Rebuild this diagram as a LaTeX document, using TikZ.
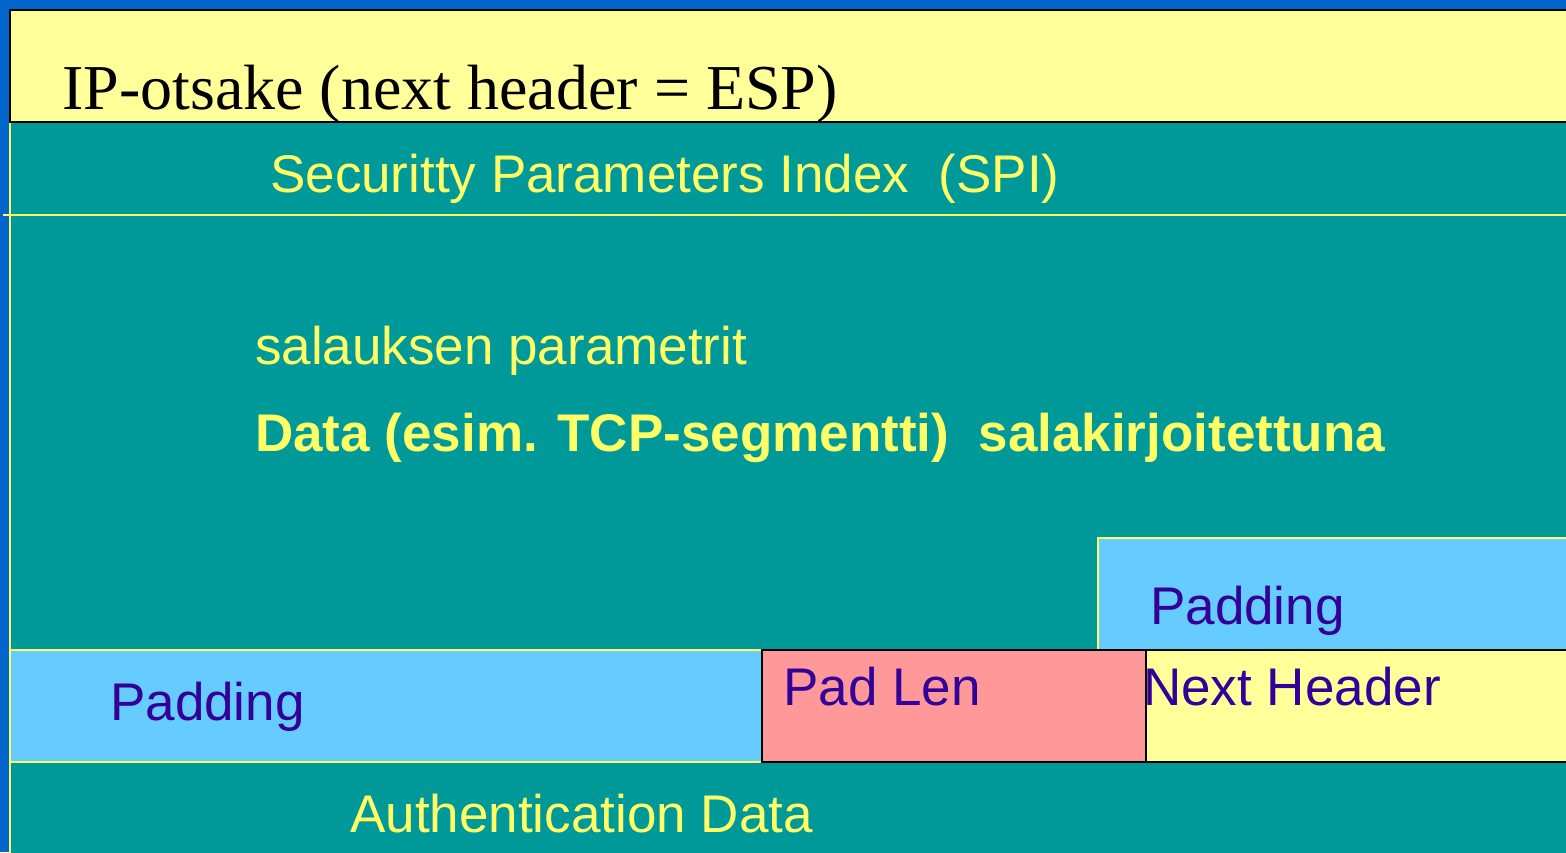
\documentclass[tikz,border=0pt]{standalone}
\usepackage{fontspec}
\setmainfont{Liberation Serif}
\setsansfont{Liberation Sans}
\definecolor{slideblue}{HTML}{0066CC}
\definecolor{espteal}{HTML}{009999}
\definecolor{paleyellow}{HTML}{FFFF99}
\definecolor{textyellow}{HTML}{FFFF66}
\definecolor{padblue}{HTML}{66CCFF}
\definecolor{padpink}{HTML}{FF9999}
\definecolor{labelpurple}{HTML}{330099}
\begin{document}
\begin{tikzpicture}[x=1pt,y=1pt,
  lbl/.style={anchor=base west, inner sep=0pt, font=\sffamily\fontsize{53}{60}\selectfont},
  yl/.style={lbl, text=textyellow},
  pl/.style={lbl, text=labelpurple},
  darkfield/.style={draw=black, line width=2pt},
  lightfield/.style={fill=padblue, draw=textyellow, line width=2pt},
]
\useasboundingbox (0,0) rectangle (1566,852);
% slide background
\fill[slideblue] (0,0) rectangle (1566,852);
% ESP body
\filldraw[fill=espteal, draw=textyellow, line width=1.5pt] (10,-5) rectangle (1572,730);
\draw[textyellow, line width=2pt] (3,637) -- (1572,637);
% IP header
\filldraw[fill=paleyellow, darkfield] (10,730) rectangle (1572,842);
\node[anchor=base west, inner sep=0pt, font=\rmfamily\fontsize{64}{70}\selectfont] (ip) at (62,742) {IP-otsake (next header = ESP)};
% trailer fields
\filldraw[lightfield] (1098,202) rectangle (1572,314);
\filldraw[lightfield] (10,90) rectangle (762,202);
\filldraw[fill=padpink, darkfield] (762,90) rectangle (1146,202);
\filldraw[fill=paleyellow, darkfield] (1146,90) rectangle (1572,202);
% labels
\node[yl] (spi) at (270,659) {Securitty Parameters Index\ \ (SPI)};
\node[yl] (par) at (255,487) {salauksen parametrit};
\node[yl, font=\sffamily\bfseries\fontsize{53}{60}\selectfont] (data) at (255,400) {Data (esim. TCP-segmentti)\ \ salakirjoitettuna};
\node[pl] (pad2) at (1150,227) {Padding};
\node[pl] (pad1) at (110,132) {Padding};
\node[pl] (plen) at (783,147) {Pad Len};
\node[pl] (nh) at (1143,147) {Next Header};
\node[yl] (auth) at (350,20) {Authentication Data};
\end{tikzpicture}
\end{document}
